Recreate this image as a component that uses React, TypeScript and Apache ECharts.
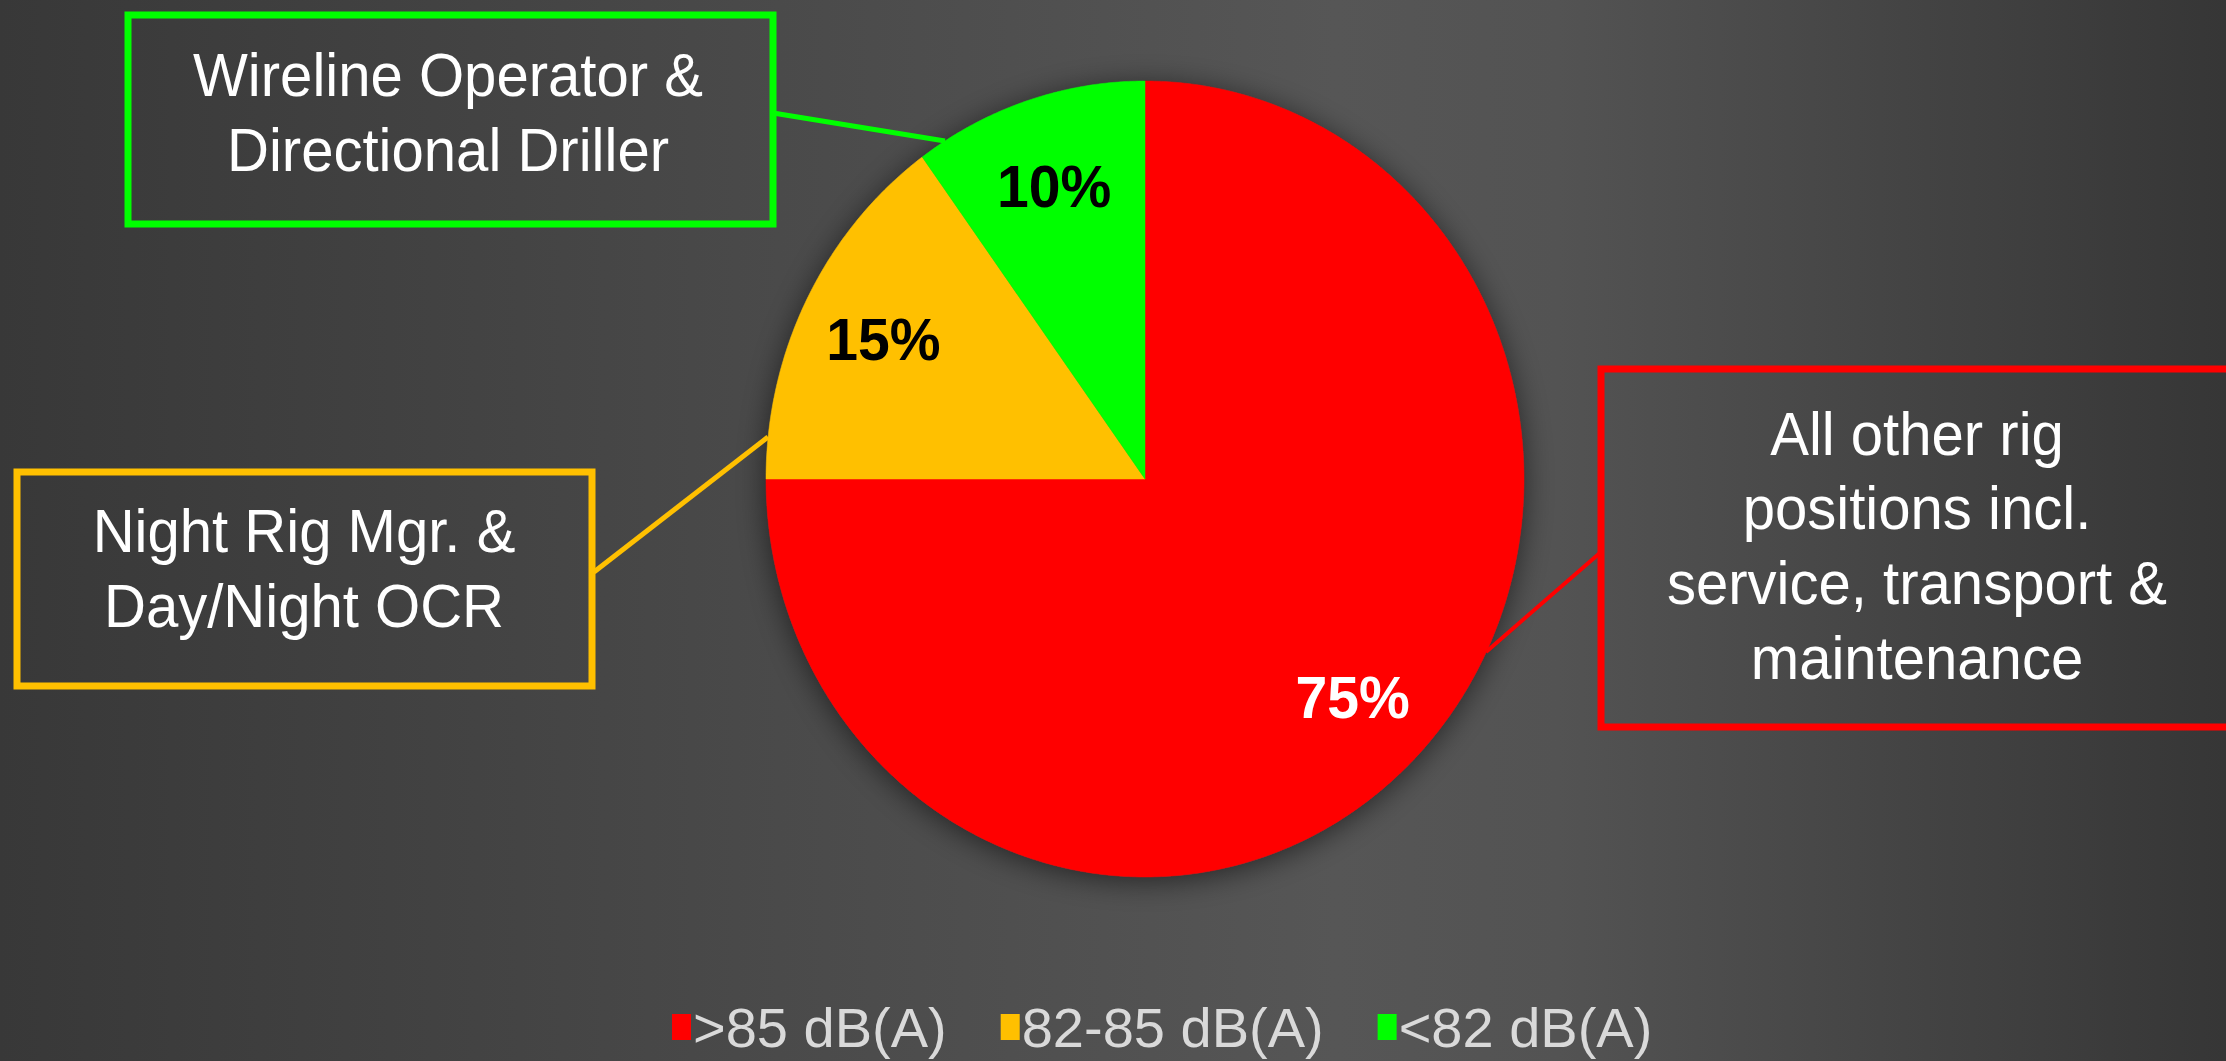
import React, { useEffect, useRef } from 'react';
import * as echarts from 'echarts';

// ---- data ----
const categories = ['>85 dB(A)', '82-85 dB(A)', '<82 dB(A)'];
const shares = [75, 15, 10];
const sliceColors = ['#ff0000', '#ffc000', '#00ff00'];
const pctLabelColors = ['#ffffff', '#000000', '#000000'];
const calloutTexts = [
  'All other rig\npositions incl.\nservice, transport &\nmaintenance',
  'Night Rig Mgr. &\nDay/Night OCR',
  'Wireline Operator &\nDirectional Driller',
];

// ---- layout ----
const W = 2226;
const H = 1061;
const CX = 1145;
const CY = 479;
const RX = 379;
const RY = 398;
const SQUEEZE = RX / RY; // the slide is squeezed horizontally
const LABEL_R = 0.775;
const FONT = 'Liberation Sans';

function slicePoints(f0: number, f1: number) {
  const pts: number[][] = [[CX, CY]];
  const n = Math.max(12, Math.ceil((f1 - f0) * 720));
  for (let k = 0; k <= n; k++) {
    const t = (f0 + ((f1 - f0) * k) / n) * 2 * Math.PI;
    pts.push([CX + RX * Math.sin(t), CY - RY * Math.cos(t)]);
  }
  return pts;
}

export default function App() {
  const ref = useRef<HTMLDivElement>(null);

  useEffect(() => {
    document.body.style.margin = '0';
    if (!ref.current) return;
    const chart = echarts.init(ref.current, undefined, { renderer: 'svg' });
    const total = shares.reduce((a, b) => a + b, 0);
    const starts: number[] = [];
    let acc = 0;
    shares.forEach((v) => {
      starts.push(acc);
      acc += v;
    });

    const sliceSeries = categories.map((name, i) => ({
      type: 'custom',
      name,
      coordinateSystem: 'none',
      itemStyle: { color: sliceColors[i] },
      z: 2,
      data: [[starts[i], shares[i]]],
      renderItem: (_params: any, api: any) => {
        const s = api.value(0) / total;
        const e = (api.value(0) + api.value(1)) / total;
        const mid = ((s + e) / 2) * 2 * Math.PI;
        return {
          type: 'group',
          children: [
            {
              type: 'polygon',
              shape: { points: slicePoints(s, e) },
              style: { fill: sliceColors[i], stroke: sliceColors[i], lineWidth: 0.5 },
            },
            {
              type: 'text',
              z2: 10,
              x: CX + RX * LABEL_R * Math.sin(mid),
              y: CY - RY * LABEL_R * Math.cos(mid),
              scaleX: SQUEEZE,
              style: {
                text: `${api.value(1)}%`,
                x: 0,
                y: 0,
                fill: pctLabelColors[i],
                fontSize: 60,
                fontWeight: 'bold',
                fontFamily: FONT,
                align: 'center',
                verticalAlign: 'middle',
              },
            },
          ],
        };
      },
    }));

    const shadowSeries = {
      type: 'custom',
      name: '__shadow',
      coordinateSystem: 'none',
      silent: true,
      z: 1,
      data: [[total]],
      renderItem: () => ({
        type: 'ellipse',
        shape: { cx: CX, cy: CY, rx: RX, ry: RY },
        style: {
          fill: '#4a4a4a',
          shadowBlur: 30,
          shadowColor: 'rgba(0,0,0,0.55)',
          shadowOffsetY: 4,
        },
      }),
    };

    const boxText = (text: string, x: number, y: number) => ({
      type: 'text',
      z: 20,
      x,
      y,
      scaleX: SQUEEZE,
      style: {
        text,
        x: 0,
        y: 0,
        fill: '#ffffff',
        fontSize: 61,
        lineHeight: 75,
        fontFamily: FONT,
        align: 'center',
        verticalAlign: 'middle',
      },
    });

    chart.setOption({
      animation: false,
      backgroundColor: {
        type: 'linear',
        x: 0,
        y: 0,
        x2: 1,
        y2: 0,
        colorStops: [
          { offset: 0, color: '#383838' },
          { offset: 0.35, color: '#4a4a4a' },
          { offset: 0.6, color: '#565656' },
          { offset: 0.7, color: '#535353' },
          { offset: 1, color: '#363636' },
        ],
      },
      legend: {
        data: categories,
        left: 672,
        top: 996,
        padding: 0,
        icon: 'rect',
        itemWidth: 19,
        itemHeight: 26,
        itemGap: 54,
        selectedMode: false,
        textStyle: {
          color: '#d9d9d9',
          fontSize: 56,
          lineHeight: 62,
          fontFamily: FONT,
          padding: [0, 0, 0, -3],
        },
      },
      series: [shadowSeries, ...sliceSeries],
      graphic: [
        // green callout
        {
          type: 'line',
          z: 15,
          shape: { x1: 773, y1: 113, x2: 945, y2: 141 },
          style: { stroke: sliceColors[2], lineWidth: 5 },
        },
        {
          type: 'rect',
          z: 15,
          shape: { x: 128, y: 15, width: 645, height: 209 },
          style: { fill: 'none', stroke: sliceColors[2], lineWidth: 7 },
        },
        boxText(calloutTexts[2], 448, 113),
        // yellow callout
        {
          type: 'line',
          z: 15,
          shape: { x1: 594, y1: 572, x2: 768, y2: 437 },
          style: { stroke: sliceColors[1], lineWidth: 5 },
        },
        {
          type: 'rect',
          z: 15,
          shape: { x: 17, y: 472, width: 575, height: 214 },
          style: { fill: 'none', stroke: sliceColors[1], lineWidth: 7 },
        },
        boxText(calloutTexts[1], 304, 569),
        // red callout
        {
          type: 'line',
          z: 15,
          shape: { x1: 1601, y1: 552, x2: 1486, y2: 652 },
          style: { stroke: sliceColors[0], lineWidth: 4 },
        },
        {
          type: 'rect',
          z: 15,
          shape: { x: 1601, y: 369, width: 700, height: 358 },
          style: { fill: 'none', stroke: sliceColors[0], lineWidth: 7 },
        },
        boxText(calloutTexts[0], 1917, 546),
      ],
    });

    return () => chart.dispose();
  }, []);

  return <div ref={ref} style={{ width: W, height: H }} />;
}
